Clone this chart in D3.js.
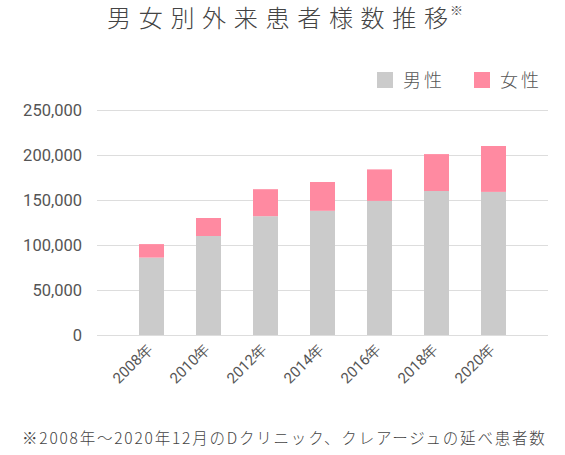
<!DOCTYPE html>
<html><head><meta charset="utf-8">
<script src="https://cdn.jsdelivr.net/npm/d3@7"></script>
<style>
body{margin:0;background:#fff;}
svg{display:block;}
</style></head>
<body>
<svg id="c" width="565" height="455"></svg>
<script>
const years = ["2008年","2010年","2012年","2014年","2016年","2018年","2020年"];
const male = [86000,110000,132000,138000,149000,160000,159000];
const female = [15000,20000,30000,32000,35000,41000,51000];
const yTicks = [0,50000,100000,150000,200000,250000];
const seriesNames = ["男性","女性"];
const colors = ["#cbcbcb","#ff8aa1"];
const title = "男女別外来患者様数推移";
const note = "※2008年～2020年12月のDクリニック、クレアージュの延べ患者数";

const svg = d3.select("#c");
const jp = "'Noto Sans CJK JP','Noto Sans',sans-serif";
const num = "Roboto,'Noto Sans',sans-serif";

const x = d3.scaleBand().domain(years).range([97,548]).paddingInner(32/57).paddingOuter(0.737);
const y = d3.scaleLinear().domain([0,250000]).range([335,110]);

// gridlines
svg.append("g").selectAll("line").data(yTicks).join("line")
  .attr("x1",97).attr("x2",548)
  .attr("y1",d=>y(d)+0.5).attr("y2",d=>y(d)+0.5)
  .attr("stroke","#dddddd").attr("stroke-width",1);

// y labels
svg.append("g").selectAll("text").data(yTicks).join("text")
  .attr("x",82).attr("y",d=>y(d)).attr("dy","0.36em")
  .attr("text-anchor","end").attr("font-family",num).attr("font-size",16.5)
  .attr("fill","#555").text(d=>d3.format(",")(d));

// stacked bars
const stackData = years.map((yr,i)=>({year:yr, m:male[i], f:female[i]}));
const stack = d3.stack().keys(["m","f"])(stackData);
svg.append("g").selectAll("g").data(stack).join("g")
  .attr("fill",(d,i)=>colors[i])
  .selectAll("rect").data(d=>d).join("rect")
  .attr("x",d=>x(d.data.year)).attr("width",x.bandwidth())
  .attr("y",d=>y(d[1])).attr("height",d=>y(d[0])-y(d[1]));

// x labels
svg.append("g").selectAll("text").data(years).join("text")
  .attr("transform",d=>`translate(${x(d)+x.bandwidth()/2+2},${350}) rotate(-45)`)
  .attr("text-anchor","end").attr("font-family",num).attr("font-size",15)
  .attr("fill","#555").text(d=>d);

// title
const t = svg.append("text").attr("x",107).attr("y",27)
  .attr("font-family",jp).attr("font-size",24).attr("font-weight",300)
  .attr("fill","#444");
t.append("tspan").attr("letter-spacing",7.7).text(title.slice(0,-1));
t.append("tspan").attr("letter-spacing",0).text(title.slice(-1));
svg.append("text").attr("x",450).attr("y",15)
  .attr("font-family",jp).attr("font-size",13).attr("font-weight",300).attr("fill","#555").text("※");

// legend
const lx = [377,474];
seriesNames.forEach((n,i)=>{
  svg.append("rect").attr("x",lx[i]).attr("y",72).attr("width",16).attr("height",16).attr("fill",colors[i]);
  svg.append("text").attr("x",lx[i]+26).attr("y",87).attr("font-family",jp).attr("font-weight",300)
    .attr("font-size",18).attr("letter-spacing",3).attr("fill","#555").text(n);
});

// footnote
svg.append("text").attr("x",22).attr("y",444).attr("font-family",jp).attr("font-weight",300)
  .attr("font-size",15.5).attr("letter-spacing",1.8).attr("fill","#444").text(note);
</script>
</body></html>
